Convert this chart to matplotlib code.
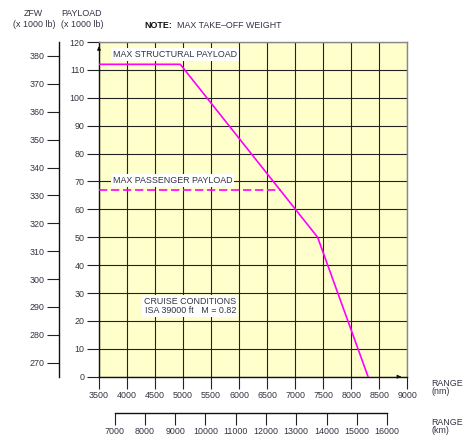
import matplotlib
matplotlib.use("Agg")
import matplotlib.pyplot as plt

plt.rcParams['font.family'] = ['Liberation Sans', 'DejaVu Sans']

# ---- data ----
range_nm = [3500, 4950, 7400, 8300]
payload_limit = [112, 112, 50, 0]
pax_range_nm = [3500, 6740]
pax_payload = [67, 67]

nm_ticks = [3500, 4000, 4500, 5000, 5500, 6000, 6500, 7000, 7500, 8000, 8500, 9000]
payload_ticks = [0, 10, 20, 30, 40, 50, 60, 70, 80, 90, 100, 110, 120]
zfw_ticks = [270, 280, 290, 300, 310, 320, 330, 340, 350, 360, 370, 380]
km_ticks = [7000, 8000, 9000, 10000, 11000, 12000, 13000, 14000, 15000, 16000]
zfw_offset = 265
nm_to_km = 1.852

W, H = 470, 437
fig = plt.figure(figsize=(W / 100, H / 100), dpi=100)

def fx(px):
    return px / W

def fy(py):
    return 1 - py / H

TXT = '#333344'
FS = 6.4
MAG = '#ff00ff'

x0, x1, y0, y1 = 99, 407.3, 42, 376.7
ax = fig.add_axes([fx(x0), fy(y1), fx(x1) - fx(x0), fy(y0) - fy(y1)])
ax.set_facecolor('#ffffcc')
ax.set_xlim(3500, 9000)
ax.set_ylim(0, 120)
ax.set_xticks(nm_ticks)
ax.set_xticklabels([str(t) for t in nm_ticks])
ax.set_yticks(payload_ticks)
ax.set_yticklabels([str(t) for t in payload_ticks])
ax.grid(True, color='#222222', lw=0.8)
ax.set_axisbelow(True)
ax.tick_params(axis='both', length=8.5, width=0.8, color='#222222',
               labelsize=FS, labelcolor=TXT, pad=2)
for s in ['top', 'right']:
    ax.spines[s].set_color('#888888')
    ax.spines[s].set_linewidth(1.0)
for s in ['left', 'bottom']:
    ax.spines[s].set_color('#111111')
    ax.spines[s].set_linewidth(1.0)

ax.plot(range_nm, payload_limit, color=MAG, lw=1.2, zorder=3)
ax.plot(pax_range_nm, pax_payload, color=MAG, lw=1.2, dashes=(5, 2.2), zorder=3)

bbox = dict(facecolor='white', edgecolor='none', pad=1.5)
ax.text(3745, 115.5, 'MAX STRUCTURAL PAYLOAD', fontsize=FS, color=TXT,
        va='center', ha='left', bbox=bbox, zorder=4)
ax.text(3745, 70.5, 'MAX PASSENGER PAYLOAD', fontsize=FS, color=TXT,
        va='center', ha='left', bbox=bbox, zorder=4)
ax.text(5130, 25.3, 'CRUISE CONDITIONS\nISA 39000 ft   M = 0.82', fontsize=FS,
        color=TXT, va='center', ha='center', linespacing=0.95, bbox=bbox, zorder=4)

# axis arrows
ax.annotate('', xy=(9000 - 60, 0), xytext=(8800, 0),
            arrowprops=dict(arrowstyle='-|>', color='#111111', lw=0.8,
                            mutation_scale=5), annotation_clip=False)
ax.annotate('', xy=(3500, 119.5), xytext=(3500, 116),
            arrowprops=dict(arrowstyle='-|>', color='#111111', lw=0.8,
                            mutation_scale=5), annotation_clip=False)

# ZFW axis
zx = 58.7
axz = fig.add_axes([fx(zx), fy(y1), 0.0001, fy(y0) - fy(y1)])
axz.set_ylim(0 + zfw_offset, 120 + zfw_offset)
axz.set_xticks([])
axz.set_yticks(zfw_ticks)
axz.set_yticklabels([str(t) for t in zfw_ticks])
axz.tick_params(axis='y', length=8.5, width=0.8, color='#222222',
                labelsize=FS, labelcolor=TXT, pad=2)
for s in ['top', 'right', 'bottom']:
    axz.spines[s].set_visible(False)
axz.spines['left'].set_color('#111111')
axz.spines['left'].set_linewidth(1.0)
axz.patch.set_visible(False)

# km axis
ky = 412.7
axk = fig.add_axes([fx(x0), fy(ky), fx(x1) - fx(x0), 0.0001])
axk.set_xlim(3500 * nm_to_km, 9000 * nm_to_km)
axk.set_yticks([])
axk.set_xticks(km_ticks)
axk.set_xticklabels([str(t) for t in km_ticks])
axk.tick_params(axis='x', length=8.5, width=0.8, color='#222222',
                labelsize=FS, labelcolor=TXT, pad=1.5)
for s in ['top', 'right', 'left']:
    axk.spines[s].set_visible(False)
axk.spines['bottom'].set_bounds(km_ticks[0], km_ticks[-1])
axk.spines['bottom'].set_color('#111111')
axk.spines['bottom'].set_linewidth(1.0)
axk.patch.set_visible(False)

# header and side labels
fig.text(fx(33), fy(14), 'ZFW', fontsize=FS, color=TXT, ha='center', va='center')
fig.text(fx(34), fy(24.3), '(x 1000 lb)', fontsize=FS, color=TXT, ha='center', va='center')
fig.text(fx(82), fy(14), 'PAYLOAD', fontsize=FS, color=TXT, ha='center', va='center')
fig.text(fx(82), fy(24.3), '(x 1000 lb)', fontsize=FS, color=TXT, ha='center', va='center')
fig.text(fx(144), fy(26), 'NOTE:', fontsize=FS, color='#111111', fontweight='bold',
         ha='left', va='center')
fig.text(fx(176.7), fy(26), 'MAX TAKE\u2013OFF WEIGHT', fontsize=FS, color=TXT,
         ha='left', va='center')
fig.text(fx(431.7), fy(383.3), 'RANGE', fontsize=FS, color=TXT, ha='left', va='center')
fig.text(fx(431.7), fy(391.7), '(nm)', fontsize=FS, color=TXT, ha='left', va='center')
fig.text(fx(431.7), fy(422.7), 'RANGE', fontsize=FS, color=TXT, ha='left', va='center')
fig.text(fx(431.7), fy(430.7), '(km)', fontsize=FS, color=TXT, ha='left', va='center')

fig.savefig('out.png', dpi=100, facecolor='white')
